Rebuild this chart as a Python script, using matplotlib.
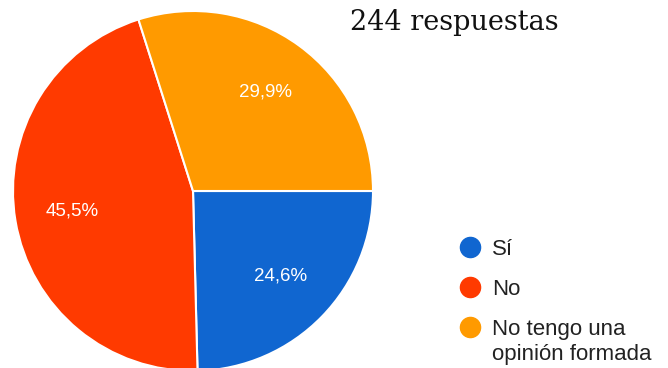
import matplotlib.pyplot as plt
from matplotlib.lines import Line2D

# survey answers
labels = ['Sí', 'No', 'No tengo una']
label_cont = 'opinión formada'
shares = [24.6, 45.5, 29.9]
colors = ['#1066d0', '#ff3a00', '#ff9a00']
total = '244 respuestas'

W, H = 668, 368
fig = plt.figure(figsize=(W / 100, H / 100), dpi=100)

# pie centered near (193, 191) px, radius 180 px
ax = fig.add_axes([13 / W, (H - 371) / H, 360 / W, 360 / H])
wedges, texts, autotexts = ax.pie(
    shares, colors=colors, startangle=0, counterclock=False,
    autopct=lambda p: f'{p:.1f}%'.replace('.', ','), pctdistance=0.68,
    wedgeprops=dict(edgecolor='white', linewidth=1.5),
    textprops=dict(color='white', fontsize=13.5, family='Liberation Sans'))
ax.set_xlim(-1, 1)
ax.set_ylim(-1, 1)
ax.set_aspect('equal')

fig.text(350 / W, 1 - 22 / H, total, fontsize=19.5, family='DejaVu Serif',
         va='center', ha='left', color='#111111')

handles = [Line2D([], [], marker='o', linestyle='', markersize=14.5,
                  markerfacecolor=c, markeredgecolor=c) for c in colors]
leg = fig.legend(handles, labels, loc='upper left', bbox_to_anchor=(459 / W, 1 - 239 / H),
                 frameon=False, handletextpad=0.49, labelspacing=0.85, handlelength=1.0,
                 prop=dict(family='Liberation Sans', size=16), labelcolor='#222222',
                 borderaxespad=0, borderpad=0)

# second line of the last label, under the first one
fig.canvas.draw()
bb = leg.get_texts()[-1].get_window_extent()
fig.text(bb.x0 / W, (bb.y0 - 25) / H, label_cont, fontsize=16,
         family='Liberation Sans', color='#222222', va='bottom', ha='left')

fig.savefig('out.png', dpi=100)
